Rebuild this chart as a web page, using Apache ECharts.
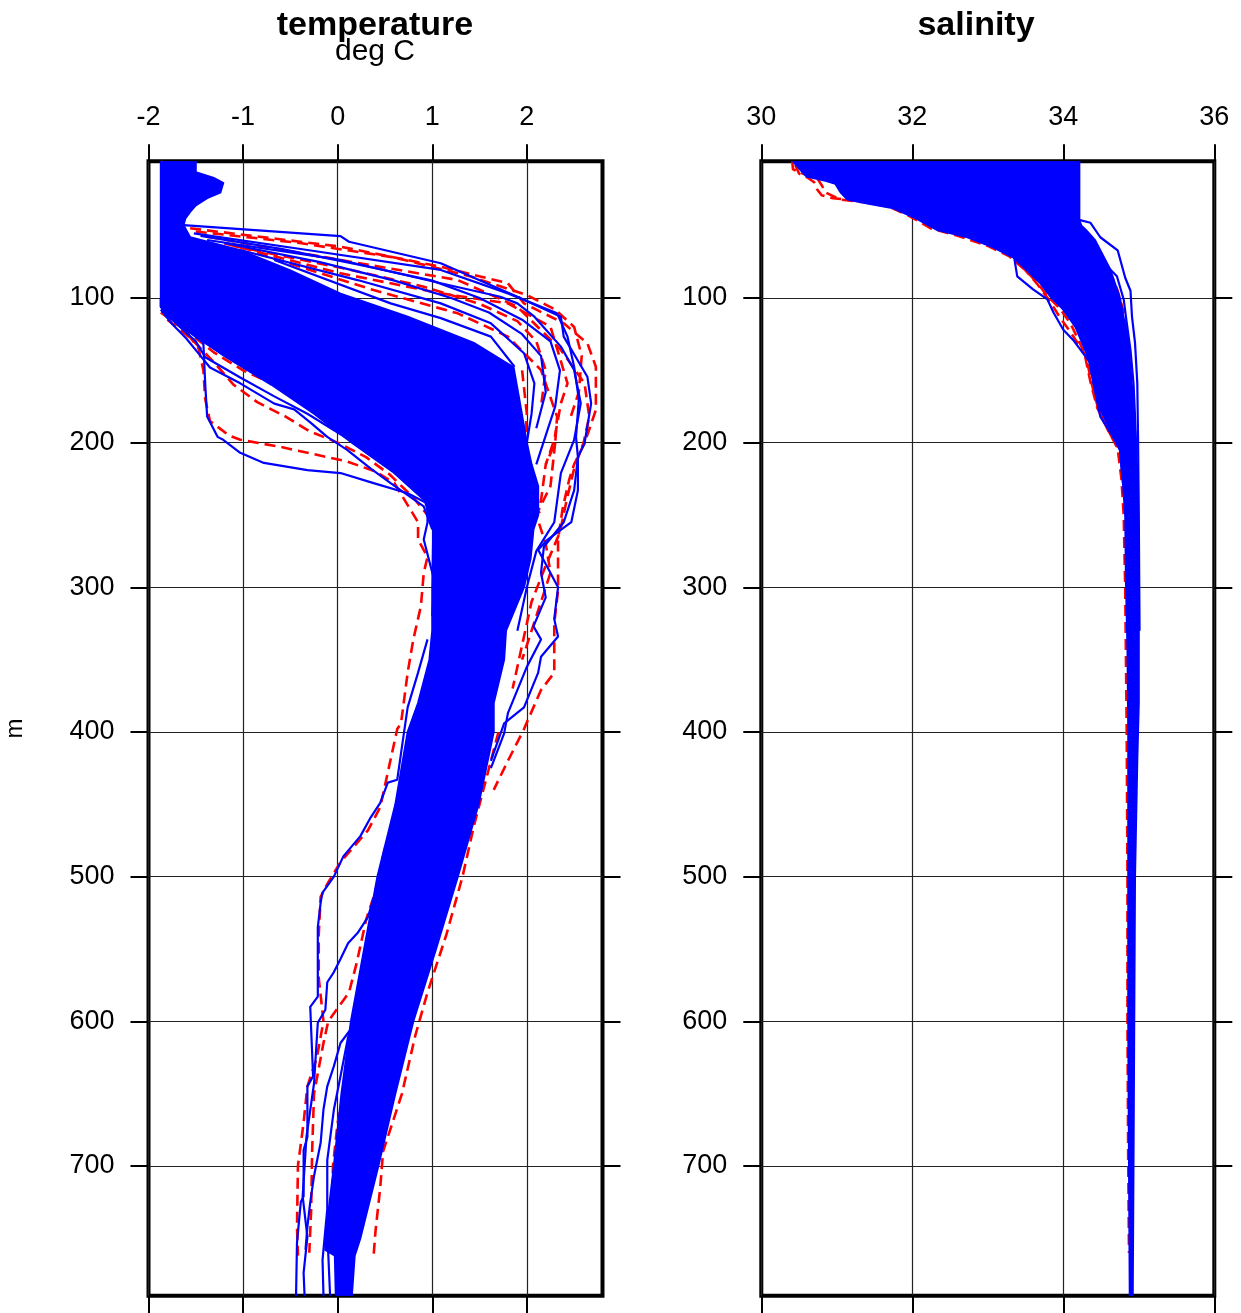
<!DOCTYPE html>
<html>
<head>
<meta charset="utf-8">
<script src="https://cdn.jsdelivr.net/npm/echarts/dist/echarts.min.js"></script>
<style>
html,body{margin:0;padding:0;background:#fff;}
#chart{width:1241px;height:1313px;}
</style>
</head>
<body>
<div id="chart"></div>
<script>
// ---------- tick labels ----------
const depthTicks = [100, 200, 300, 400, 500, 600, 700];
const tempTicks = [-2, -1, 0, 1, 2];
const salTicks = [30, 32, 34, 36];
const depthRange = [5.5, 789.7];
const tempRange = [-2, 2.80];
const salRange = [30, 36];

// ---------- temperature: dense blue envelope [T, depth] ----------
const tempBandLeft = [[-1.87,5.5],[-1.87,100],[-1.87,106],[-1.80,112],[-1.65,120],[-1.20,140],[-0.70,160],[-0.25,180],[0.15,200],[0.58,220],[0.92,240],[1.01,260],[1.00,300],[1.00,330],[0.97,350],[0.85,380],[0.74,400],[0.61,450],[0.42,500],[0.28,550],[0.14,600],[0.04,650],[-0.04,700],[-0.13,750],[-0.13,758],[-0.03,762],[-0.02,789.7]];
const tempBandRight = [[-1.50,5.5],[-1.50,13],[-1.31,17],[-1.21,20.5],[-1.24,27],[-1.38,31],[-1.50,36],[-1.56,40.5],[-1.61,45],[-1.63,49.6],[-1.56,58],[-1.03,67],[-0.50,81],[0.03,97],[0.74,113],[1.44,131],[1.86,148],[1.92,170],[2.00,200],[2.05,215],[2.12,230],[2.12,250],[2.07,260],[2.04,280],[1.97,300],[1.78,330],[1.76,350],[1.65,380],[1.65,400],[1.49,450],[1.27,500],[1.04,550],[0.80,600],[0.61,650],[0.43,700],[0.24,750],[0.20,758],[0.18,762],[0.15,789.7]];

// ---------- temperature: individual blue profiles ----------
const tempBlueProfiles = [
  [[-1.63,49.6],[0.03,57.2],[0.12,61.1],[1.09,76.0],[1.90,99.1],[2.36,112.9],[2.39,126.7],[2.64,154.4],[2.68,172.8],[2.61,200.4],[2.54,210],[2.54,233],[2.47,255],[2.22,267],[2.12,274],[2.33,300],[2.29,322],[2.33,334],[2.15,348],[2.12,359],[1.97,383],[1.76,394],[1.62,420]],
  [[-1.52,55.3],[-0.32,66.8],[1.09,80.6],[1.80,96.8],[2.32,110.6],[2.43,126.7],[2.50,147.5],[2.55,170],[2.52,196],[2.54,210],[2.50,233],[2.39,255],[2.18,272],[2.15,290],[2.20,307],[2.07,327],[2.15,336],[2.00,355],[1.80,387],[1.76,401],[1.62,425]],
  [[-1.38,59.9],[0.03,73.7],[1.09,89.8],[1.72,99.1],[1.90,103.7],[2.08,112.9],[2.36,133.6],[2.50,149.8],[2.57,172.8],[2.50,198.1],[2.36,221],[2.29,255],[2.10,275],[2.00,300],[1.90,330]],
  [[-1.45,57],[-0.60,66],[0.30,78],[1.00,88],[1.50,100],[1.95,115],[2.25,130],[2.35,150],[2.30,175],[2.20,195],[2.10,215]],
  [[-1.20,62],[-0.20,75],[0.60,88],[1.20,100],[1.60,110],[1.95,125],[2.15,140],[2.20,165],[2.10,190]],
  [[-1.03,66.8],[0.21,87.6],[1.09,103.7],[1.62,117.5],[1.97,138.2],[2.08,159.0],[2.05,180],[2.00,200]],
  [[-0.67,73.7],[0.56,103.7],[1.09,113.9],[1.62,126.7],[1.87,147.5]],
  [[-1.87,100],[-1.87,106],[-1.80,113],[-1.63,120],[-1.42,131],[-1.40,160],[-1.38,182],[-1.27,196],[-1.21,198],[-1.03,207],[-0.78,214],[-0.32,219],[0.03,221],[0.38,228],[0.74,235],[0.95,242],[0.95,255],[0.91,267],[1.02,295],[1.00,320]],
  [[-1.87,108],[-1.75,118],[-1.60,128],[-1.45,140],[-1.35,148],[-1.03,159],[-0.67,173],[-0.46,177],[-0.29,186],[-0.11,196],[0.10,205],[0.35,218],[0.56,228],[0.91,244],[1.00,260]],
  [[-1.75,115],[-1.50,130],[-1.40,141],[-1.03,155],[-0.67,168],[-0.32,180],[0.00,193],[0.30,205],[0.60,218],[0.85,232]],
  [[-1.87,104],[-1.70,112],[-1.55,122],[-1.20,138],[-0.80,152],[-0.40,166],[0.00,178],[0.40,192],[0.70,205],[0.90,218]],
  [[0.95,336],[0.85,359],[0.74,383],[0.70,401],[0.63,433],[0.53,435],[0.45,449],[0.35,459],[0.24,472],[0.06,486],[-0.04,500],[-0.16,511],[-0.18,518],[-0.21,535],[-0.21,583],[-0.29,590],[-0.26,638],[-0.32,645],[-0.32,680],[-0.36,689],[-0.36,721],[-0.39,725],[-0.43,753],[-0.44,789.7]],
  [[0.38,515],[0.32,528],[0.21,539],[0.11,546],[0.03,557],[-0.04,566],[-0.11,573],[-0.13,592],[-0.21,601],[-0.25,643],[-0.33,680],[-0.37,721],[-0.32,749],[-0.36,774],[-0.35,789.7]],
  [[0.20,600],[0.03,615],[-0.04,631],[-0.11,645],[-0.15,661],[-0.18,684],[-0.25,707],[-0.29,725],[-0.32,742],[-0.34,758]],
  [[0.20,595],[0.11,611],[0.03,638],[-0.04,661],[-0.11,696],[-0.11,730],[-0.16,765],[-0.15,789.7]],
  [[0.25,620],[0.15,650],[0.05,680],[0.00,700],[-0.07,730],[-0.10,760],[-0.08,789.7]],
  [[0.30,730],[0.22,750],[0.17,760],[0.12,789.7]]
];

// ---------- temperature: individual red dashed profiles ----------
const tempRedProfiles = [
  [[-1.56,51.8],[0.03,64.5],[1.09,78.4],[1.80,89.8],[1.97,103.7],[2.39,117.5],[2.64,131.3],[2.73,147.5],[2.73,177.4],[2.61,200.4],[2.50,215],[2.45,225],[2.38,245],[2.33,267],[2.33,302],[2.29,325],[2.29,359],[2.15,371],[1.97,398],[1.80,420],[1.65,440]],
  [[-1.50,54],[-0.40,62],[0.60,72],[1.40,85],[2.00,98],[2.30,108],[2.50,120],[2.58,140],[2.55,165],[2.45,185]],
  [[-1.38,57.6],[0.03,73.7],[1.27,87.6],[1.90,106.0],[2.36,135.9],[2.61,159.0],[2.66,182.0],[2.60,200],[2.50,218],[2.42,240],[2.35,262],[2.20,285],[2.05,310],[1.95,340],[1.85,370]],
  [[-1.20,62.2],[0.03,82.9],[1.09,96.8],[1.80,103.7],[2.25,119.8],[2.43,159.0],[2.36,172.8],[2.29,198.1],[2.20,215],[2.15,240],[2.05,260]],
  [[-1.10,64],[0.10,80],[0.90,92],[1.50,104],[1.90,116],[2.10,130],[2.20,150],[2.15,175]],
  [[-0.85,69.1],[0.38,94.5],[1.27,110.6],[1.80,126.7],[2.15,149.8],[2.32,182.0],[2.30,200],[2.20,215]],
  [[-1.87,110],[-1.62,122],[-1.47,135],[-1.42,150],[-1.40,170],[-1.35,185],[-1.15,195],[-1.03,198],[-0.60,203],[-0.25,208],[0.10,213],[0.40,220],[0.60,228],[0.85,255],[0.85,267],[0.95,279],[0.91,290],[0.88,313],[0.80,336],[0.74,359],[0.67,394],[0.63,398],[0.45,452],[0.32,468],[0.03,490],[-0.10,504],[-0.18,514],[-0.20,540],[-0.20,570],[-0.15,600],[-0.22,625],[-0.32,645],[-0.36,670],[-0.42,700],[-0.43,742],[-0.42,762]],
  [[-1.80,115],[-1.55,128],[-1.30,145],[-1.10,160],[-0.85,172],[-0.55,182],[-0.30,192],[0.00,200],[0.30,210],[0.55,222],[0.80,238],[0.95,250]],
  [[-1.65,120],[-1.30,138],[-1.00,150],[-0.60,162],[-0.30,170],[0.00,180],[0.30,192],[0.60,205],[0.85,222]],
  [[-1.85,106],[-1.50,118],[-1.10,132],[-0.70,146],[-0.30,160],[0.10,175],[0.50,192],[0.80,210]],
  [[0.50,480],[0.40,510],[0.30,530],[0.20,560],[0.12,580],[-0.10,600],[-0.15,615],[-0.25,650],[-0.27,690],[-0.28,730],[-0.30,760]],
  [[1.70,400],[1.58,430],[1.44,465],[1.32,500],[1.15,540],[0.95,580],[0.82,610],[0.68,650],[0.48,690],[0.45,715],[0.40,745],[0.38,762]],
  [[0.40,560],[0.30,580],[0.20,610],[0.10,640],[0.00,670],[-0.05,700],[-0.06,730],[-0.05,760]],
  [[1.95,150],[2.00,180],[1.98,200],[1.97,225],[2.05,240],[2.15,250]],
  [[2.30,200],[2.25,230],[2.10,250],[2.20,270],[2.25,290],[2.15,310],[2.05,330],[1.95,350]],
  [[-1.87,5.5],[-1.70,12],[-1.45,15],[-1.22,20],[-1.25,26],[-1.40,31],[-1.55,38]]
];

// ---------- salinity: dense blue envelope [S, depth] ----------
const salBandLeft = [[30.42,5.5],[30.52,11.5],[30.60,16],[30.85,19],[30.98,21],[31.05,27],[31.14,32],[31.44,35],[31.75,38],[32.01,44],[32.33,53],[32.73,58],[33.07,65],[33.34,72],[33.52,81],[33.70,90],[33.83,99],[34.00,108],[34.16,120],[34.33,141],[34.40,159],[34.49,177],[34.62,191],[34.75,205],[34.79,228],[34.82,251],[34.83,297],[34.85,343],[34.86,400],[34.86,500],[34.86,600],[34.87,700],[34.88,789.7]];
const salBandRight = [[34.21,5.5],[34.21,46],[34.24,50],[34.30,53],[34.42,60],[34.62,80],[34.75,100],[34.86,130],[34.94,180],[34.99,230],[35.00,300],[35.00,380],[34.98,420],[34.95,500],[34.94,600],[34.93,700],[34.92,789.7]];

const salBlueProfiles = [
  [[34.21,5.5],[34.21,46],[34.36,48],[34.49,58],[34.72,67],[34.82,86],[34.89,95],[34.91,113],[34.95,131],[34.98,159],[34.99,196],[35.00,251],[35.01,330]],
  [[33.20,65],[33.34,69],[33.39,85],[33.60,94],[33.79,101],[33.87,110],[34.00,122],[34.13,129],[34.36,145],[34.40,159],[34.49,182],[34.66,196],[34.75,205],[34.79,228]],
  [[34.28,60],[34.40,74],[34.58,78],[34.71,85],[34.80,101],[34.84,117],[34.89,136],[34.93,159],[34.95,182],[34.97,210]]
];
const salRedProfiles = [
  [[30.41,5.5],[30.42,11],[30.55,14],[30.75,18],[30.80,22],[30.85,27],[31.05,32],[31.40,34],[31.70,37],[31.95,43],[32.25,52],[32.60,57],[33.00,64],[33.28,71],[33.48,80],[33.65,89],[33.78,98],[33.95,107],[34.10,118],[34.28,138],[34.36,158],[34.45,176],[34.58,190],[34.72,204],[34.77,225],[34.80,250],[34.82,300],[34.84,400],[34.85,500],[34.85,600],[34.86,700],[34.87,760]],
  [[30.45,8],[30.50,14],[30.62,17],[30.70,20],[30.74,25],[30.80,29],[30.95,31],[31.30,33],[31.60,36]],
  [[33.45,78],[33.65,90],[33.82,102],[33.95,113],[34.10,124],[34.30,140],[34.38,160],[34.47,178],[34.60,192],[34.72,203]],
  [[34.35,62],[34.50,72],[34.62,82],[34.72,95],[34.80,110],[34.85,130],[34.90,160],[34.93,190]]
];

// ---------- styling ----------
const FONT = "'Liberation Sans', Arial, Helvetica, sans-serif";
const BLUE = '#0000ff';
const RED = '#ff0000';

function xAxisPair(grid, range, ticks, interval) {
  return [
    { gridIndex: grid, type: 'value', position: 'top', min: range[0], max: range[1], interval: interval,
      axisLine: { show: false, onZero: false },
      axisTick: { show: true, inside: false, length: 17, customValues: ticks, lineStyle: { color: '#000', width: 2 } },
      axisLabel: { show: true, customValues: ticks, margin: 30, fontSize: 27, color: '#000', fontFamily: FONT },
      splitLine: { show: true, lineStyle: { color: '#222', width: 1.2 } } },
    { gridIndex: grid, type: 'value', position: 'bottom', min: range[0], max: range[1], interval: interval,
      axisLine: { show: false, onZero: false },
      axisTick: { show: true, inside: false, length: 18, customValues: ticks, lineStyle: { color: '#000', width: 2 } },
      axisLabel: { show: false },
      splitLine: { show: false } }
  ];
}
function yAxisPair(grid, withName) {
  const left = { gridIndex: grid, type: 'value', position: 'left', inverse: true, min: depthRange[0], max: depthRange[1], splitNumber: 8,
      axisLine: { show: false, onZero: false },
      axisTick: { show: true, inside: false, length: 18, customValues: depthTicks, lineStyle: { color: '#000', width: 2 } },
      axisLabel: { show: true, customValues: depthTicks, margin: 34, fontSize: 27, color: '#000', fontFamily: FONT },
      splitLine: { show: true, lineStyle: { color: '#222', width: 1.2 } } };
  if (withName) {
    left.name = 'm';
    left.nameLocation = 'middle';
    left.nameRotate = 90;
    left.nameGap = 121;
    left.nameTextStyle = { fontSize: 24, color: '#000', fontFamily: FONT };
  }
  const right = { gridIndex: grid, type: 'value', position: 'right', inverse: true, min: depthRange[0], max: depthRange[1], splitNumber: 8,
      axisLine: { show: false, onZero: false },
      axisTick: { show: true, inside: false, length: 18, customValues: depthTicks, lineStyle: { color: '#000', width: 2 } },
      axisLabel: { show: false },
      splitLine: { show: false } };
  return [left, right];
}

function lineSeries(profiles, xi, yi, color, dashed, z) {
  return profiles.map(function (p) {
    return {
      type: 'line', xAxisIndex: xi, yAxisIndex: yi, data: p, symbol: 'none', showSymbol: false,
      silent: true, animation: false, z: z, clip: true,
      lineStyle: { color: color, width: dashed ? 2.6 : 2.2, type: dashed ? [11, 6] : 'solid' }
    };
  });
}
function bandSeries(left, right, xi, yi) {
  return {
    type: 'custom', coordinateSystem: 'cartesian2d', xAxisIndex: xi, yAxisIndex: yi,
    data: [[left[0][0], left[0][1]]], silent: true, animation: false, z: 3, clip: true,
    renderItem: function (params, api) {
      const pts = left.map(function (p) { return api.coord(p); })
        .concat(right.slice().reverse().map(function (p) { return api.coord(p); }));
      return { type: 'polygon', shape: { points: pts }, style: { fill: BLUE, stroke: BLUE, lineWidth: 2 } };
    }
  };
}

const chart = echarts.init(document.getElementById('chart'));
const option = {
  backgroundColor: '#fff',
  animation: false,
  grid: [
    { left: 148.5, top: 161.3, width: 454, height: 1134.4, show: true, borderColor: '#000', borderWidth: 4, backgroundColor: 'transparent', containLabel: false, outerBoundsMode: 'none' },
    { left: 761.3, top: 161.3, width: 453, height: 1134.4, show: true, borderColor: '#000', borderWidth: 4, backgroundColor: 'transparent', containLabel: false, outerBoundsMode: 'none' }
  ],
  xAxis: xAxisPair(0, tempRange, tempTicks, 1).concat(xAxisPair(1, salRange, salTicks, 2)),
  yAxis: yAxisPair(0, true).concat(yAxisPair(1, false)),
  graphic: [
    { type: 'text', x: 375, y: 26, style: { text: 'temperature', font: 'bold 34px ' + FONT, fill: '#000', textAlign: 'center', textVerticalAlign: 'middle', align: 'center', verticalAlign: 'middle' } },
    { type: 'text', x: 375, y: 52, style: { text: 'deg C', font: '30px ' + FONT, fill: '#000', textAlign: 'center', textVerticalAlign: 'middle', align: 'center', verticalAlign: 'middle' } },
    { type: 'text', x: 976, y: 26, style: { text: 'salinity', font: 'bold 34px ' + FONT, fill: '#000', textAlign: 'center', textVerticalAlign: 'middle', align: 'center', verticalAlign: 'middle' } }
  ],
  series: []
    .concat(lineSeries(tempRedProfiles, 0, 0, RED, true, 2))
    .concat([bandSeries(tempBandLeft, tempBandRight, 0, 0)])
    .concat(lineSeries(tempBlueProfiles, 0, 0, BLUE, false, 4))
    .concat(lineSeries(salRedProfiles, 2, 2, RED, true, 2))
    .concat([bandSeries(salBandLeft, salBandRight, 2, 2)])
    .concat(lineSeries(salBlueProfiles, 2, 2, BLUE, false, 4))
};
chart.setOption(option);
</script>
</body>
</html>
